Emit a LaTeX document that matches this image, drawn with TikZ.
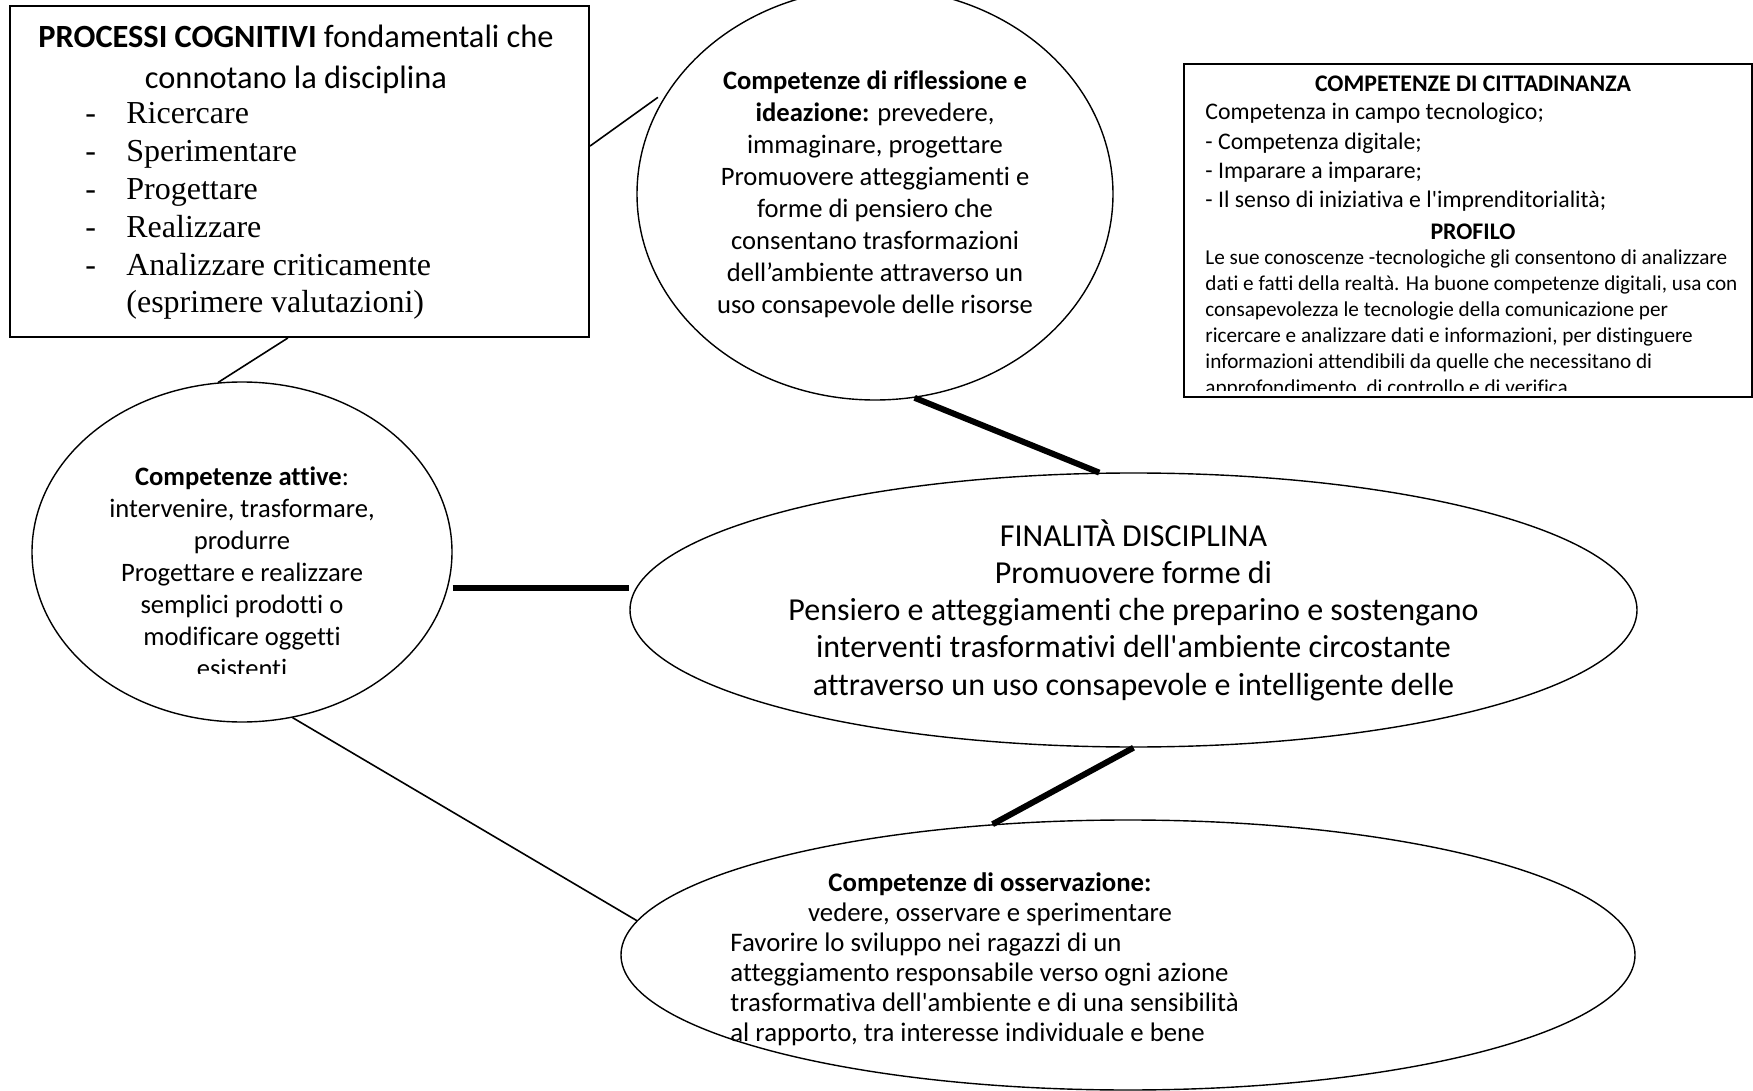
\documentclass[tikz,border=0pt]{standalone}
\usepackage{fontspec}
\setmainfont{Carlito}[Ligatures={TeX,NoCommon}, Contextuals={NoAlternate}]
\newfontfamily\timesfont{Liberation Serif}
\usetikzlibrary{shapes.geometric}
\newcommand\apos{\textquotesingle}
\tikzset{
  box/.style={draw, line width=1pt, inner sep=0pt},
  oval/.style={draw, ellipse, line width=0.7pt, inner sep=0pt, align=center},
  link/.style={line width=0.8pt},
  heavy/.style={line width=3pt},
  txt/.style={inner sep=0pt},
}

\begin{document}
\begin{tikzpicture}[x=0.5pt, y=-0.5pt]
\useasboundingbox (0,0) rectangle (1753,1091);
% boxes
\node[box, minimum width=289.5pt, minimum height=165.5pt] (proc) at (299.5,171.5) {};
\node[box, minimum width=284pt, minimum height=166.5pt] (citt) at (1468,230.5) {};
\node[txt, align=center, font=\fontsize{16.2}{20.3}\selectfont, anchor=north] (proctitle) at (296,25)
  {\textbf{PROCESSI COGNITIVI} fondamentali che\\ connotano la disciplina};
\node[txt, font=\timesfont\fontsize{16}{18.9}\selectfont, anchor=north west] (proclist) at (85,97)
  {\begin{tabular}{@{}p{20.5pt}@{}l@{}}
   - & Ricercare\\
   - & Sperimentare\\
   - & Progettare\\
   - & Realizzare\\
   - & Analizzare criticamente\\
     & (esprimere valutazioni)
   \end{tabular}};
\node[txt, font=\fontsize{11.9}{14.3}\selectfont\bfseries, anchor=north] (citthead) at (1473,75) {COMPETENZE DI CITTADINANZA};
\node[txt, align=left, font=\fontsize{11.9}{14.6}\selectfont, anchor=north west] (cittlist) at (1205,103)
  {Competenza in campo tecnologico;\\ - Competenza digitale;\\ - Imparare a imparare;\\ - Il senso di iniziativa e l\apos imprenditorialità;};
\node[txt, font=\fontsize{11.9}{14}\selectfont\bfseries, anchor=north] (profhead) at (1473,223) {PROFILO};
\begin{scope}
  \clip (1184,60) rectangle (1752,391);
  \node[txt, align=left, font=\fontsize{10.6}{13}\selectfont, anchor=north west] (proftext) at (1205,249)
    {Le sue conoscenze -tecnologiche gli consentono di analizzare\\
     dati e fatti della realtà. Ha buone competenze digitali, usa con\\
     consapevolezza le tecnologie della comunicazione per\\
     ricercare e analizzare dati e informazioni, per distinguere\\
     informazioni attendibili da quelle che necessitano di\\
     approfondimento, di controllo e di verifica};
\end{scope}
% ellipses
\node[oval, minimum width=238pt, minimum height=206pt, font=\fontsize{13.3}{16}\selectfont] (rifl) at (875,194)
  {\textbf{Competenze di riflessione e}\\ \textbf{ideazione:} prevedere,\\ immaginare, progettare\\
   Promuovere atteggiamenti e\\ forme di pensiero che\\ consentano trasformazioni\\
   dell’ambiente attraverso un\\ uso consapevole delle risorse};
\node[oval, minimum width=210pt, minimum height=170pt] (attive) at (242,552) {};
\begin{scope}
  \clip (0,0) rectangle (1753,673);
  \node[txt, align=center, font=\fontsize{13.3}{16}\selectfont, anchor=north] (attivetxt) at (242,466)
    {\textbf{Competenze attive}:\\ intervenire, trasformare,\\ produrre\\ Progettare e realizzare\\
     semplici prodotti o\\ modificare oggetti\\ esistenti};
\end{scope}
\node[oval, minimum width=503.5pt, minimum height=137pt, font=\fontsize{16}{18.6}\selectfont] (final) at (1133.5,610)
  {FINALITÀ DISCIPLINA\\ Promuovere forme di\\ Pensiero e atteggiamenti che preparino e sostengano\\
   interventi trasformativi dell\apos ambiente circostante\\ attraverso un uso consapevole e intelligente delle};
\node[oval, minimum width=507pt, minimum height=135pt] (osserv) at (1128,955) {};
\node[txt, align=center, font=\fontsize{13.4}{15.2}\selectfont, anchor=north] (osshead) at (990,872)
  {\textbf{Competenze di osservazione:}\\ vedere, osservare e sperimentare};
\node[txt, align=left, font=\fontsize{13.4}{15}\selectfont, anchor=north west] (osstxt) at (730,932)
  {Favorire lo sviluppo nei ragazzi di un\\ atteggiamento responsabile verso ogni azione\\
   trasformativa dell\apos ambiente e di una sensibilità\\ al rapporto, tra interesse individuale e bene};
% connectors
\coordinate (fw) at ([yshift=11pt]final.west);
\draw[link, shorten >=7pt] (proc.5.2) -- (rifl.153.9);
\draw[link] (proc.266.7) -- (attive.98.4);
\draw[heavy] (rifl.-79.8) -- (final.104);
\draw[heavy] (attive.east |- fw) -- (fw);
\draw[heavy] (final.south) -- (osserv.136.5);
\draw[link] (attive.-73.6) -- (osserv.176.8);
\end{tikzpicture}
\end{document}
